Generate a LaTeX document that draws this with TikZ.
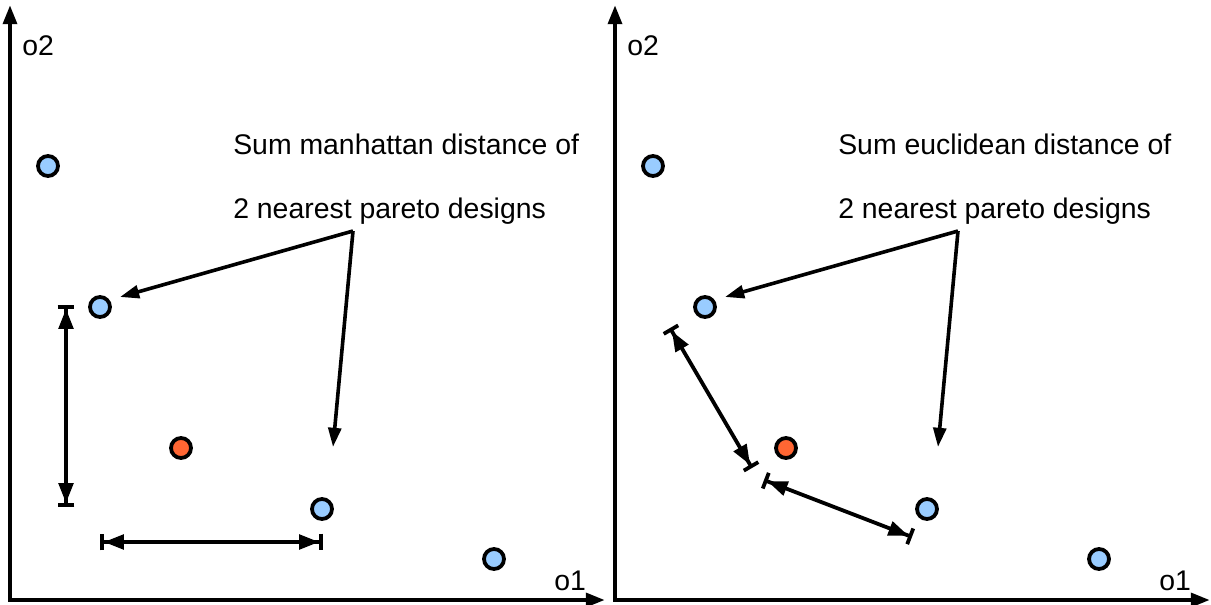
\documentclass[tikz,border=0pt]{standalone}
\usepackage{fontspec}
\setmainfont{Liberation Sans}
\usetikzlibrary{arrows.meta}
\definecolor{paretoBlue}{HTML}{99CCFF}
\definecolor{pickOrange}{HTML}{FF6633}

\begin{document}
\begin{tikzpicture}[x=0.25mm,y=-0.25mm,
    every node/.style={font=\fontsize{20.2}{24}\selectfont},
    lbl/.style={anchor=base west,inner sep=0pt},
    pt/.style={circle,draw,line width=0.95mm,minimum size=5mm,inner sep=0pt},
    axes/.style={line width=1.1mm,{Triangle[length=4.8mm,width=3.4mm]}-{Triangle[length=4.8mm,width=3.4mm]}},
    ptr/.style={line width=0.9mm,-{Triangle[length=4.8mm,width=3.2mm]}},
    dim/.style={line width=0.95mm,{Bar[width=4.2mm]Triangle[length=5mm,width=3.6mm]}-{Triangle[length=5mm,width=3.6mm]Bar[width=4.2mm]}}]
      \useasboundingbox (0,0) rectangle (1211,605);
      \foreach \dx/\s/\kind in {0/L/manhattan,605/R/euclidean}{%
        \begin{scope}[xshift=\dx*0.25mm]
          \coordinate (org\s) at (10,600);
          \draw[axes] (10,5) -- (org\s) -- (605,600);
          \node[lbl] (o2\s) at (22,56) {o2};
          \node[lbl] (o1\s) at (554,590) {o1};
          \node[pt,fill=paretoBlue] (p\s1) at (48,166) {};
          \node[pt,fill=paretoBlue] (p\s2) at (100,307) {};
          \node[pt,fill=paretoBlue] (p\s3) at (322,509) {};
          \node[pt,fill=paretoBlue] (p\s4) at (494,559) {};
          \node[pt,fill=pickOrange] (c\s) at (181,448) {};
          \node[lbl] (t\s1) at (233,154) {Sum \kind\ distance of};
          \node[lbl] (t\s2) at (233,218) {2 nearest pareto designs};
          \coordinate (apex\s) at (353,231);
          \coordinate (tipA\s) at (120,297);
          \coordinate (tipB\s) at (333,447);
          \draw[ptr] (apex\s) -- (tipA\s);
          \draw[ptr] (apex\s) -- (tipB\s);
        \end{scope}
      }
      % manhattan: vertical and horizontal gaps
      \coordinate (vTop) at (66,305);
      \coordinate (vBot) at (66,507);
      \coordinate (hLeft) at (100,542);
      \coordinate (hRight) at (323,542);
      \draw[dim] (vTop) -- (vBot);
      \draw[dim] (hLeft) -- (hRight);
      % euclidean: straight gaps
      \coordinate (eA) at (670,328);
      \coordinate (eB) at (752,468);
      \coordinate (eC) at (764,480);
      \coordinate (eD) at (912,537);
      \draw[dim] (eA) -- (eB);
      \draw[dim] (eC) -- (eD);
    \end{tikzpicture}
\end{document}
